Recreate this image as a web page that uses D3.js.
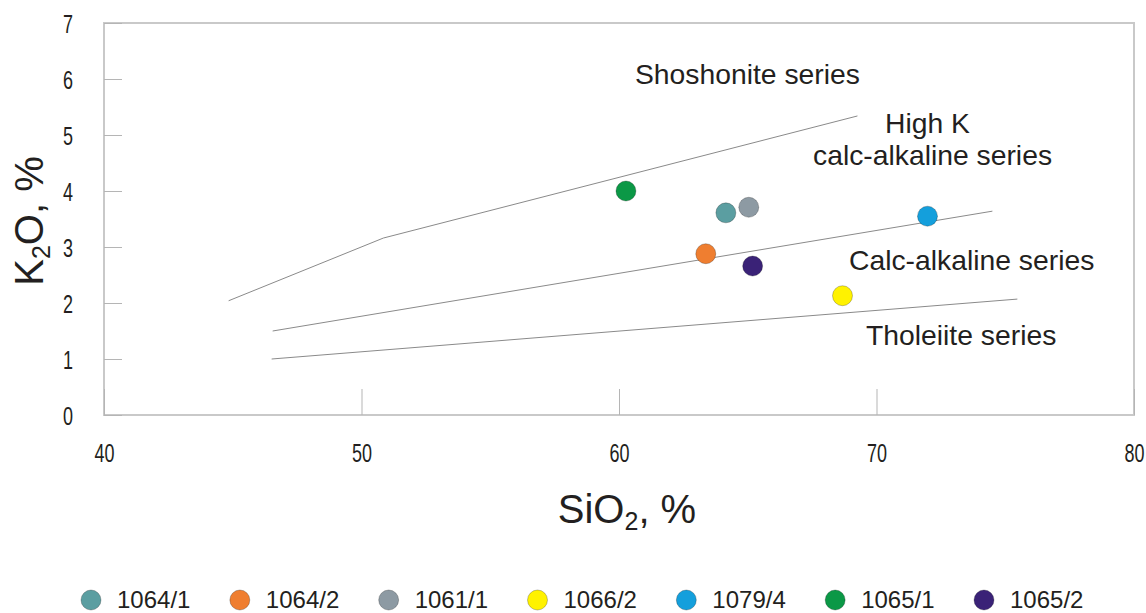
<!DOCTYPE html>
<html>
<head>
<meta charset="utf-8">
<script src="https://cdn.jsdelivr.net/npm/d3@7"></script>
<style>
  body { margin: 0; background: #fff; }
  .chart text { fill: #231f20; font-family: "Liberation Sans", Arial, sans-serif; }
  .tick text { font-size: 25px; }
</style>
</head>
<body>
<div class="chart"></div>
<script>
var svgWidth = 1146;
var svgHeight = 613;

// samples: SiO2 and K2O, %
var samples = ["1064/1", "1064/2", "1061/1", "1066/2", "1079/4", "1065/1", "1065/2"];
var sio2 = [64.15, 63.37, 65.04, 68.68, 71.98, 60.27, 65.19];
var k2o = [3.61, 2.88, 3.71, 2.13, 3.55, 4.0, 2.66];
var colors = ["#5b9ea1", "#ef7e30", "#8d9aa3", "#fff200", "#149fdc", "#0b9846", "#3a2277"];

// series boundaries (SiO2, K2O)
var shoshoniteLine = [[44.84, 2.04], [50.85, 3.16], [69.26, 5.34]];
var highKLine = [[46.55, 1.50], [74.5, 3.64]];
var tholeiiteLine = [[46.51, 1.00], [75.47, 2.07]];

var xTicks = [40, 50, 60, 70, 80];
var yTicks = [0, 1, 2, 3, 4, 5, 6, 7];

var narrow = 0.72; // tick labels are set in a condensed face

var svg = d3.select(".chart")
  .append("svg")
  .attr("width", svgWidth)
  .attr("height", svgHeight);

var xScale = d3.scaleLinear().domain([40, 80]).range([104, 1134]);
var yScale = d3.scaleLinear().domain([0, 7]).range([415, 23]);

// frame
svg.append("rect")
  .attr("x", xScale(40))
  .attr("y", yScale(7))
  .attr("width", xScale(80) - xScale(40))
  .attr("height", yScale(0) - yScale(7))
  .attr("fill", "none")
  .attr("stroke", "#c9c9c9")
  .attr("stroke-width", 2);

// axes, ticks pointing inwards
var leftAxis = d3.axisLeft(yScale).tickValues(yTicks).tickFormat(d3.format("d"))
  .tickSizeInner(-18).tickSizeOuter(0);
var bottomAxis = d3.axisBottom(xScale).tickValues(xTicks).tickFormat(d3.format("d"))
  .tickSizeInner(-26).tickSizeOuter(0);

var yAxisG = svg.append("g")
  .attr("transform", `translate(${xScale(40)}, 0)`)
  .call(leftAxis);
yAxisG.select(".domain").remove();
yAxisG.selectAll(".tick line").attr("stroke", "#b5b5b5");
yAxisG.selectAll(".tick text")
  .attr("x", -36 / narrow)
  .attr("transform", `scale(${narrow},1)`)
  .attr("text-anchor", "middle")
  .attr("dy", "0.36em");

var xAxisG = svg.append("g")
  .attr("transform", `translate(0, ${yScale(0)})`)
  .call(bottomAxis);
xAxisG.select(".domain").remove();
xAxisG.selectAll(".tick line").attr("stroke", "#b5b5b5");
xAxisG.selectAll(".tick text")
  .attr("y", 29)
  .attr("transform", `scale(${narrow},1)`)
  .attr("dy", "0.71em");

// boundary lines
var line = d3.line()
  .x(d => xScale(d[0]))
  .y(d => yScale(d[1]));

svg.selectAll(".boundary")
  .data([shoshoniteLine, highKLine, tholeiiteLine])
  .enter()
  .append("path")
  .attr("class", "boundary")
  .attr("d", line)
  .attr("fill", "none")
  .attr("stroke", "#8a8a8a")
  .attr("stroke-width", 1);

// series labels
var seriesLabels = [
  { text: "Shoshonite series", x: 635, y: 84 },
  { text: "High K", x: 885, y: 133 },
  { text: "calc-alkaline series", x: 813, y: 165 },
  { text: "Calc-alkaline series", x: 849, y: 270 },
  { text: "Tholeiite series", x: 866, y: 345 }
];
svg.selectAll(".seriesLabel")
  .data(seriesLabels)
  .enter()
  .append("text")
  .attr("class", "seriesLabel")
  .attr("x", d => d.x)
  .attr("y", d => d.y)
  .attr("font-size", "28.3px")
  .text(d => d.text);

// points
svg.selectAll(".sample")
  .data(samples)
  .enter()
  .append("circle")
  .attr("class", "sample")
  .attr("cx", (d, i) => xScale(sio2[i]))
  .attr("cy", (d, i) => yScale(k2o[i]))
  .attr("r", 10)
  .attr("fill", (d, i) => colors[i])
  .attr("stroke", "rgba(0,0,0,0.3)")
  .attr("stroke-width", 0.8);

// axis titles
var xTitle = svg.append("text")
  .attr("x", 627)
  .attr("y", 523)
  .attr("text-anchor", "middle")
  .attr("font-size", "40px");
xTitle.append("tspan").text("SiO");
xTitle.append("tspan").attr("font-size", "25px").attr("dy", 7).text("2");
xTitle.append("tspan").attr("dy", -7).text(", %");

var yTitle = svg.append("text")
  .attr("transform", "translate(43, 221) rotate(-90)")
  .attr("text-anchor", "middle")
  .attr("font-size", "40px");
yTitle.append("tspan").text("K");
yTitle.append("tspan").attr("font-size", "25px").attr("dy", 7).text("2");
yTitle.append("tspan").attr("dy", -7).text("O, %");

// legend
var legendScale = d3.scalePoint().domain(samples).range([91, 984]);
var legend = svg.selectAll(".legendItem")
  .data(samples)
  .enter()
  .append("g")
  .attr("class", "legendItem")
  .attr("transform", d => `translate(${legendScale(d)}, 600)`);

legend.append("circle")
  .attr("r", 10)
  .attr("fill", (d, i) => colors[i])
  .attr("stroke", "rgba(0,0,0,0.3)")
  .attr("stroke-width", 0.8);

legend.append("text")
  .attr("x", 26)
  .attr("y", 7.5)
  .attr("font-size", "24px")
  .text(d => d);
</script>
</body>
</html>
